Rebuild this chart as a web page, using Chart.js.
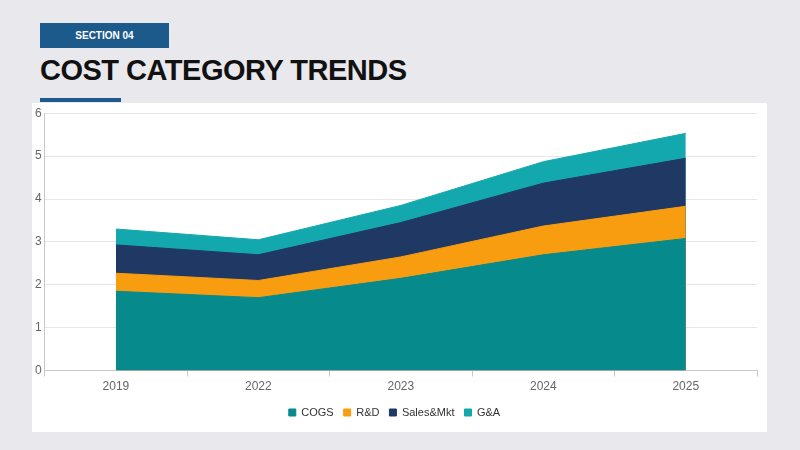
<!DOCTYPE html>
<html>
<head>
<meta charset="utf-8">
<script src="https://cdn.jsdelivr.net/npm/chart.js@4"></script>
<style>
  body { margin: 0; width: 800px; height: 450px; background: #e9e8ec; font-family: "Liberation Sans", Arial, sans-serif; position: relative; overflow: hidden; }
  .tag { position: absolute; left: 40px; top: 23px; width: 129px; height: 25px; background: #1d5a8c; color: #fff; font-size: 10px; font-weight: bold; line-height: 25px; text-align: center; }
  h1 { position: absolute; left: 40px; top: 54px; margin: 0; font-size: 29px; font-weight: bold; color: #111; letter-spacing: -0.5px; }
  .bar { position: absolute; left: 40px; top: 98px; width: 81px; height: 4px; background: #1d5a8c; }
  .panel { position: absolute; left: 32px; top: 103px; width: 735px; height: 329px; background: #fff; }
</style>
</head>
<body>
<div class="tag">SECTION 04</div>
<h1>COST CATEGORY TRENDS</h1>
<div class="bar"></div>
<div class="panel"><canvas id="c" width="735" height="329"></canvas></div>
<script>
// valeurs
const years = ["2019", "2022", "2023", "2024", "2025"];
const cogs = [1.85, 1.70, 2.15, 2.70, 3.08];
const rnd = [0.42, 0.40, 0.50, 0.67, 0.75];
const salesMkt = [0.66, 0.60, 0.80, 1.00, 1.12];
const gna = [0.37, 0.35, 0.40, 0.50, 0.58];

function area(label, data, color) {
    return { label: label, data: data, backgroundColor: color, borderColor: color, borderWidth: 1, fill: true, pointRadius: 0, tension: 0 };
}

new Chart(document.getElementById("c"), {
    type: "line",
    data: {
        labels: years,
        datasets: [
            area("COGS", cogs, "#068a8c"),
            area("R&D", rnd, "#f99d10"),
            area("Sales&Mkt", salesMkt, "#1f3864"),
            area("G&A", gna, "#12a8ad")
        ]
    },
    options: {
        responsive: false,
        animation: false,
        layout: { padding: { left: 0, right: 10, top: 8, bottom: 4 } },
        plugins: {
            legend: { position: "bottom", labels: { boxWidth: 7, boxHeight: 7, color: "#333", font: { size: 11 }, padding: 10 } },
            tooltip: { enabled: false }
        },
        scales: {
            x: {
                offset: true,
                grid: { offset: true, drawOnChartArea: false, tickLength: 6, color: "#c8c8c8" },
                border: { color: "#c8c8c8" },
                ticks: { color: "#666", font: { size: 12 } }
            },
            y: {
                stacked: true, min: 0, max: 6,
                ticks: { stepSize: 1, color: "#666", font: { size: 12 } },
                grid: { color: "#e6e6e6", drawTicks: false },
                border: { display: true, color: "#c8c8c8" }
            }
        }
    }
});
</script>
</body>
</html>
